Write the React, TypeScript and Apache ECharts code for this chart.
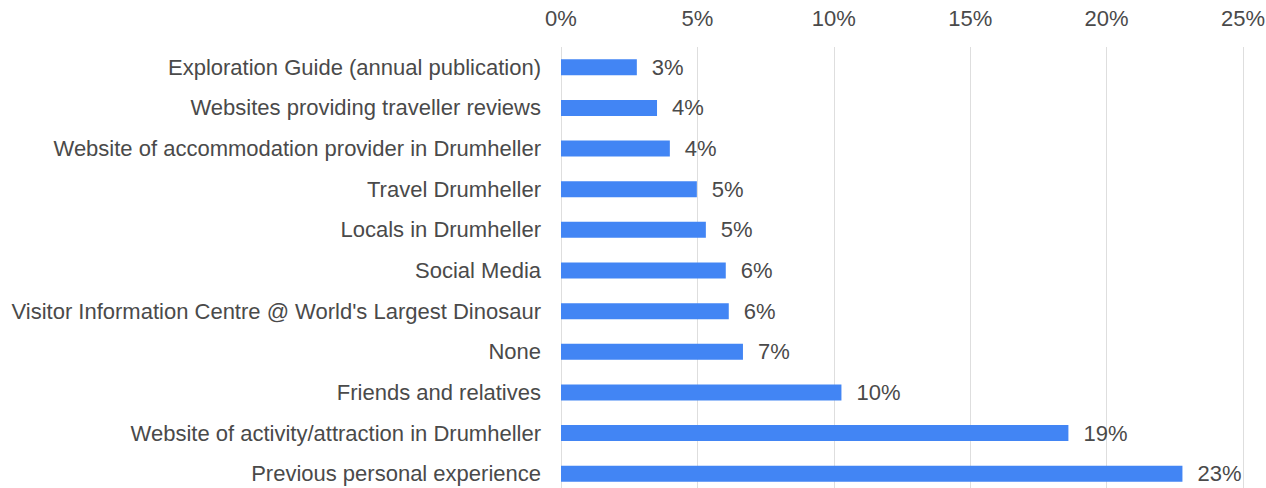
import React, { useEffect, useRef } from "react";
import * as echarts from "echarts";

const categories = [
  "Exploration Guide (annual publication)",
  "Websites providing traveller reviews",
  "Website of accommodation provider in Drumheller",
  "Travel Drumheller",
  "Locals in Drumheller",
  "Social Media",
  "Visitor Information Centre @ World's Largest Dinosaur",
  "None",
  "Friends and relatives",
  "Website of activity/attraction in Drumheller",
  "Previous personal experience",
];

const values = [2.78, 3.52, 3.99, 4.98, 5.31, 6.04, 6.15, 6.67, 10.28, 18.6, 22.78];

const xTicks = [0, 5, 10, 15, 20, 25];

export default function App() {
  const ref = useRef<HTMLDivElement>(null);
  useEffect(() => {
    if (!ref.current) return;
    const chart = echarts.init(ref.current, null, { renderer: "svg" });
    const font = "'Liberation Sans', Arial, sans-serif";
    chart.setOption({
      animation: false,
      backgroundColor: "#ffffff",
      grid: {
        left: 561,
        right: 23,
        top: 47,
        height: 447,
        containLabel: false,
        outerBoundsMode: "none",
      },
      xAxis: {
        type: "value",
        position: "top",
        min: xTicks[0],
        max: xTicks[xTicks.length - 1],
        interval: 5,
        axisLine: { show: false },
        axisTick: { show: false },
        splitLine: { show: true, lineStyle: { color: "#dedede", width: 1 } },
        axisLabel: {
          formatter: (v: number) => v + "%",
          color: "#4a4a4a",
          fontSize: 22,
          fontFamily: font,
          margin: 18,
        },
      },
      yAxis: {
        type: "category",
        inverse: true,
        data: categories,
        axisLine: { show: false },
        axisTick: { show: false },
        axisLabel: {
          color: "#4a4a4a",
          fontSize: 22,
          fontFamily: font,
          margin: 20,
        },
      },
      series: [
        {
          type: "bar",
          data: values,
          barWidth: 16,
          itemStyle: { color: "#4285F4" },
          label: {
            show: true,
            position: "right",
            distance: 15,
            formatter: (p: any) => Math.round(p.value) + "%",
            color: "#4a4a4a",
            fontSize: 22,
            fontFamily: font,
          },
        },
      ],
    });
    return () => chart.dispose();
  }, []);
  return (
    <div
      ref={ref}
      style={{ position: "fixed", left: 0, top: 0, width: 1266, height: 488 }}
    />
  );
}
